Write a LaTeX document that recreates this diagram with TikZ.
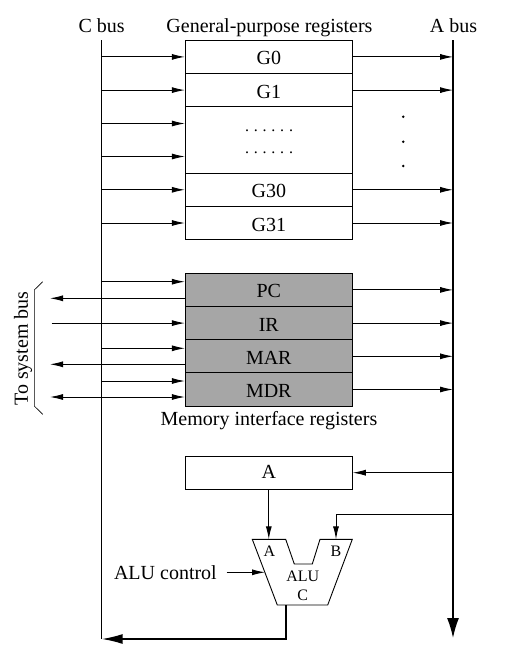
\documentclass[tikz,border=0pt]{standalone}
\usepackage{fontspec}
\setmainfont{Liberation Serif}
\usetikzlibrary{arrows.meta}
\definecolor{regGray}{HTML}{A6A6A6}
\newcommand{\dotrow}{.\hspace{4.8pt}.\hspace{4.8pt}.\hspace{4.8pt}.\hspace{4.8pt}.\hspace{4.8pt}.}
\begin{document}
\begin{tikzpicture}[x=1pt,y=-1pt,
  every node/.style={font=\fontsize{20}{24}\selectfont},
  reg/.style={draw, line width=0.9pt, minimum width=167pt, minimum height=33.2pt, inner sep=0pt, text height=16pt, text depth=0pt},
  mreg/.style={reg, fill=regGray},
  arr/.style={line width=0.9pt, -{Latex[length=13pt,width=6pt]}},
  darr/.style={line width=0.9pt, {Latex[length=13pt,width=6pt]}-{Latex[length=13pt,width=6pt]}},
  bus/.style={line width=1.4pt},
  lbl/.style={anchor=base, inner sep=0pt},
  small/.style={font=\fontsize{16}{19}\selectfont, inner sep=0pt, anchor=base}
]
\useasboundingbox (0,0) rectangle (517,665);

% bus coordinates
\coordinate (cbtop) at (101.7,40);
\coordinate (cbbot) at (101.7,639);
\coordinate (abtop) at (453,40);
\coordinate (abbot) at (453,638);
\coordinate (sys) at (50,0);
\coordinate (irsrc) at (51.7,0);

% titles
\node[lbl] (cbl) at (101.7,32.3) {C bus};
\node[lbl] (gpl) at (269.5,32.3) {General-purpose registers};
\node[lbl] (abl) at (453.5,32.3) {A bus};

% general-purpose registers
\node[reg] (G0) at (268.8,56.9) {G0};
\node[reg] (G1) at (268.8,90.1) {G1};
\node[reg, minimum height=66.4pt] (Gd) at (268.8,140) {};
\node[reg] (G30) at (268.8,189.8) {G30};
\node[reg] (G31) at (268.8,223) {G31};
\node[small] (dr1) at (269,131.5) {\dotrow};
\node[small] (dr2) at (269,153.5) {\dotrow};
\coordinate (gd1) at ([yshift=16.5pt]Gd.west);
\coordinate (gd2) at ([yshift=-16.5pt]Gd.west);

\fill (403.3,116.7) circle (1.4pt);
\fill (403.3,141.7) circle (1.4pt);
\fill (403.3,166) circle (1.4pt);

% buses
\draw[bus] (cbtop) -- (cbbot);
\draw[bus, -{Latex[length=20pt,width=12pt]}] (abtop) -- (abbot);

\foreach \r in {G0,G1,G30,G31} {
  \draw[arr] (cbtop |- \r.west) -- (\r.west);
  \draw[arr] (\r.east) -- (abtop |- \r.east);
}
\draw[arr] (cbtop |- gd1) -- (gd1);
\draw[arr] (cbtop |- gd2) -- (gd2);

% memory interface registers
\node[mreg] (PC) at (268.8,289.9) {PC};
\node[mreg] (IR) at (268.8,323.1) {IR};
\node[mreg] (MAR) at (268.8,356.3) {MAR};
\node[mreg] (MDR) at (268.8,389.5) {MDR};
\node[lbl] (meml) at (269,425.7) {Memory interface registers};

\coordinate (pcin) at ([yshift=8.2pt]PC.west);
\coordinate (pcout) at ([yshift=-8.4pt]PC.west);
\coordinate (marin) at ([yshift=8pt]MAR.west);
\coordinate (marout) at ([yshift=-8pt]MAR.west);
\coordinate (mdrin) at ([yshift=8.5pt]MDR.west);
\coordinate (mdrbi) at ([yshift=-7.5pt]MDR.west);

\draw[arr] (cbtop |- pcin) -- (pcin);
\draw[arr] (pcout) -- (sys |- pcout);
\draw[arr] (irsrc |- IR.west) -- (IR.west);
\draw[arr] (cbtop |- marin) -- (marin);
\draw[arr] (marout) -- (sys |- marout);
\draw[arr] (cbtop |- mdrin) -- (mdrin);
\draw[darr] (sys |- mdrbi) -- (mdrbi);
\foreach \r in {PC,IR,MAR,MDR} {
  \draw[arr] (\r.east) -- (abtop |- \r.east);
}

% system bus bracket
\draw[line width=0.6pt] (42.7,281.7) -- (34.3,290) -- (34.3,406) -- (42.7,414.3);
\node[rotate=90, inner sep=0pt] (sysl) at (23,348.7) {To system bus};

% A register
\node[reg, text height=12pt] (A) at (268.8,472.7) {A};
\coordinate (aj) at (453,472.7);
\draw[arr] (aj) -- (A.east);

% ALU
\draw[line width=0.9pt] (252.3,539.3) -- (285.7,539.3) -- (294.3,564) -- (312.3,564) -- (320,539.3) -- (352.3,539.3) -- (327.7,605) -- (277.3,605) -- cycle;
\coordinate (aluA) at (268.8,539.3);
\coordinate (aluB) at (336,539.3);
\coordinate (aluC) at (286,605);
\coordinate (aluctl) at (265,572.3);
\coordinate (bj) at (453,514.3);
\node[small] (la) at (269.3,556.3) {A};
\node[small] (lb) at (336,556.3) {B};
\node[small] (lalu) at (302.7,581.7) {ALU};
\node[small] (lc) at (302.7,600) {C};

\draw[arr] (A.south) -- (aluA);
\draw[arr] (bj) -| (aluB);

\node[inner xsep=9.7pt, inner ysep=0pt, anchor=east] (ctl) at (226.7,572.3) {ALU control};
\draw[arr] (ctl.east) -- (aluctl);

\draw[line width=1.6pt, -{Latex[length=21pt,width=10pt]}] (aluC) |- (cbbot);
\end{tikzpicture}
\end{document}
